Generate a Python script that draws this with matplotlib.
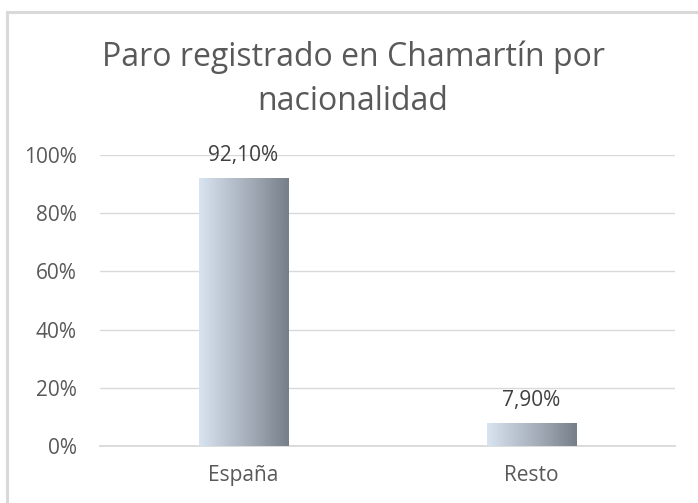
import matplotlib
matplotlib.use("Agg")
import matplotlib.pyplot as plt
import numpy as np
from matplotlib.colors import LinearSegmentedColormap
from matplotlib.patches import Rectangle

categories = ["España", "Resto"]
values = [0.921, 0.079]
value_labels = ["92,10%", "7,90%"]
yticks = [0, 0.2, 0.4, 0.6, 0.8, 1.0]
ytick_labels = ["0%", "20%", "40%", "60%", "80%", "100%"]
title_lines = ["Paro registrado en Chamartín por", "nacionalidad"]

plt.rcParams['font.family'] = ['Open Sans', 'DejaVu Sans']

fig = plt.figure(figsize=(6.98, 5.03), dpi=100)
ax = fig.add_axes([0.1426, 0.1133, 0.8251, 0.5785])

# figure border
fig.patches.append(Rectangle((6.5/698, -0.1), 1.2, 1 - 11.5/503 + 0.1,
                             transform=fig.transFigure, fill=False,
                             edgecolor="#d9d9d9", linewidth=2.2, zorder=0))

cmap = LinearSegmentedColormap.from_list("g", ["#d8e4f0", "#b9c3cf", "#9aa2ad", "#767e89"])
grad = np.linspace(0, 1, 256).reshape(1, -1)
width = 0.31
x = np.arange(len(categories))
bars = ax.bar(x, values, width=width, color="none", edgecolor="none")
for b in bars:
    x0, y0 = b.get_x(), b.get_y()
    w, h = b.get_width(), b.get_height()
    im = ax.imshow(grad, cmap=cmap, aspect="auto", extent=[x0, x0 + w, y0, y0 + h],
                   zorder=3, interpolation="bicubic")
    im.set_clip_path(b)

for xi, v, lab in zip(x, values, value_labels):
    ax.annotate(lab, (xi, v), xytext=(0, 12), textcoords="offset points",
                ha="center", va="baseline", fontsize=15, color="#404040")

ax.set_xlim(-0.5, 1.5)
ax.set_ylim(0, 1)
ax.set_yticks(yticks)
ax.set_yticklabels(ytick_labels)
ax.set_xticks(x)
ax.set_xticklabels(categories)
ax.tick_params(axis="both", length=0, labelsize=15, labelcolor="#595959")
ax.tick_params(axis="y", pad=16.5)
ax.tick_params(axis="x", pad=14)
ax.yaxis.grid(True, color="#d9d9d9", linewidth=1.0)
ax.set_axisbelow(True)
for s in ["top", "right", "left"]:
    ax.spines[s].set_visible(False)
ax.spines["bottom"].set_color("#d9d9d9")
ax.spines["bottom"].set_linewidth(1.3)

fig.text(353/698, 1 - 66/503, title_lines[0], ha="center", va="baseline", fontsize=23,
         color="#595959")
fig.text(353/698, 1 - 110/503, title_lines[1], ha="center", va="baseline", fontsize=23,
         color="#595959")

fig.savefig("out.png", dpi=100)
